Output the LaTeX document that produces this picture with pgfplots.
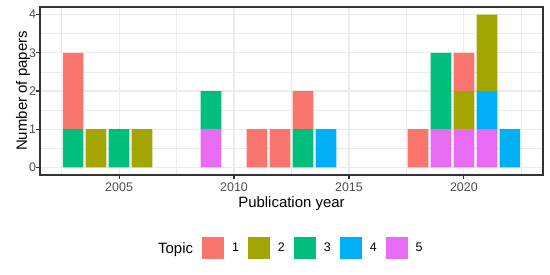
\documentclass[border=0pt]{standalone}
\usepackage{fontspec}
\setmainfont{Liberation Sans}
\usepackage{pgfplots}
\pgfplotsset{compat=1.18}
\usepackage{pgfplotstable}
\definecolor{cA}{HTML}{F8766D}
\definecolor{cB}{HTML}{A3A500}
\definecolor{cC}{HTML}{00BF7D}
\definecolor{cD}{HTML}{00B0F6}
\definecolor{cE}{HTML}{E76BF3}
\definecolor{grey20}{HTML}{333333}
\definecolor{grey30}{HTML}{4D4D4D}
\definecolor{grey92}{HTML}{EBEBEB}
\pgfplotstableread{
year t1 t2 t3 t4 t5
2003 2 0 1 0 0
2004 0 1 0 0 0
2005 0 0 1 0 0
2006 0 1 0 0 0
2009 0 0 1 0 1
2011 1 0 0 0 0
2012 1 0 0 0 0
2013 1 0 1 0 0
2014 0 0 0 1 0
2018 1 0 0 0 0
2019 0 0 2 0 1
2020 1 1 0 0 1
2021 0 2 0 1 1
2022 0 0 0 1 0
}\papers
\begin{document}
\begin{tikzpicture}
\useasboundingbox (0bp,0bp) rectangle (550bp,275bp);
\begin{axis}[
  at={(40bp,100bp)}, anchor=south west,
  scale only axis, width=503bp, height=168bp,
  xmin=2001.56, xmax=2023.44, ymin=-0.2, ymax=4.2,
  ybar stacked, bar width=0.9,
  xtick={2005,2010,2015,2020},
  minor xtick={2002.5,2007.5,2012.5,2017.5,2022.5},
  ytick={0,1,2,3,4},
  minor ytick={0.5,1.5,2.5,3.5},
  grid=both,
  major grid style={color=grey92, line width=1.07bp},
  minor grid style={color=grey92, line width=0.55bp},
  axis line style={color=grey20, line width=1.07bp},
  tick align=outside, major tick length=3.8bp, minor tick length=0pt,
  tick style={color=grey20, line width=1.07bp},
  xtick pos=bottom, ytick pos=left,
  /pgf/number format/assume math mode=true,
  /pgf/number format/1000 sep={},
  xticklabel style={font=\fontsize{12.5}{14}\selectfont, text=grey30, anchor=north, inner sep=0pt, yshift=-4bp},
  yticklabel style={font=\fontsize{12.5}{14}\selectfont, text=grey30, anchor=east, inner sep=0pt},
  xlabel={Publication year},
  ylabel={Number of papers},
  label style={font=\fontsize{15}{18}\selectfont},
  xlabel style={at={(axis description cs:0.5,-0.1905)}, anchor=base, inner sep=0pt},
  ylabel style={at={(axis description cs:-0.0338,0.5)}, anchor=center, inner sep=0pt},
  legend columns=5,
  reverse legend,
  legend image code/.code={\fill[#1] (0bp,-11.3bp) rectangle (22bp,11.3bp);},
  legend style={at={(axis description cs:0.3221,-0.4345)}, anchor=west, draw=none, fill=none,
    inner sep=0pt, outer sep=0pt,
    nodes={inner sep=0pt, font=\fontsize{12.5}{14}\selectfont},
    /tikz/every odd column/.append style={column sep=8bp},
    /tikz/every even column/.append style={column sep=9bp}},
]
\addplot[fill=cE, draw=none] table[x=year, y=t5] {\papers};
\addplot[fill=cD, draw=none] table[x=year, y=t4] {\papers};
\addplot[fill=cC, draw=none] table[x=year, y=t3] {\papers};
\addplot[fill=cB, draw=none] table[x=year, y=t2] {\papers};
\addplot[fill=cA, draw=none] table[x=year, y=t1] {\papers};
\legend{5,4,3,2,1}
\end{axis}
\node[anchor=base west, inner sep=0pt, font=\fontsize{15}{18}\selectfont] at (158bp,21.7bp) {Topic};
\end{tikzpicture}
\end{document}
